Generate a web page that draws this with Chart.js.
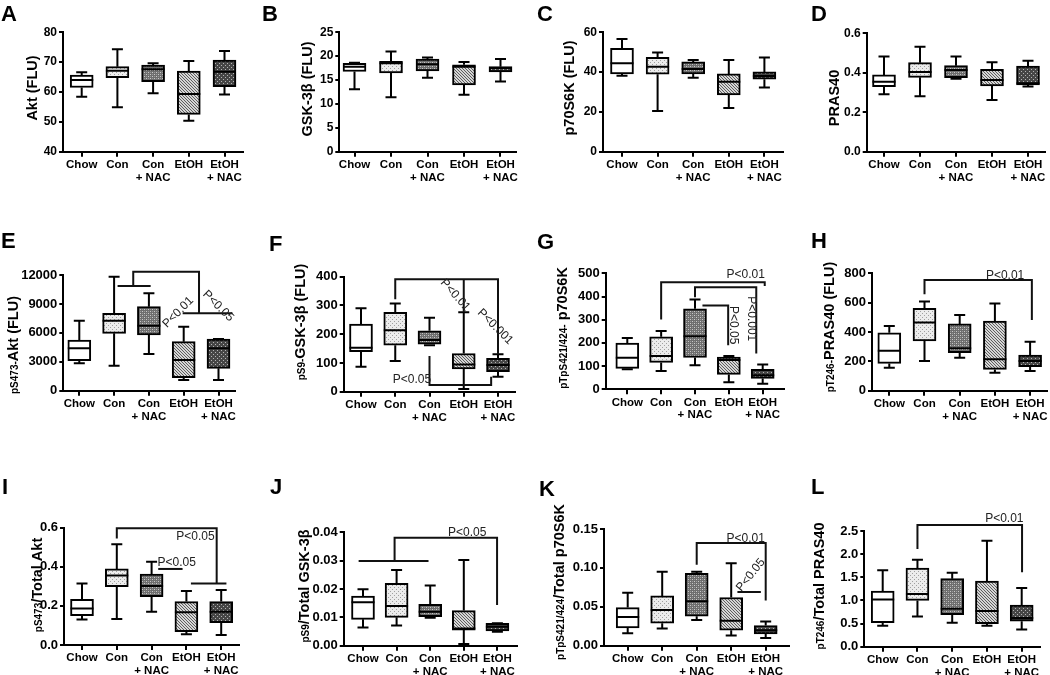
<!DOCTYPE html>
<html>
<head>
<meta charset="utf-8">
<script src="https://cdn.jsdelivr.net/npm/chart.js@4.4.1/dist/chart.umd.min.js"></script>
<style>
  body { margin: 0; background: #fff; }
  #fig { position: relative; width: 1050px; height: 675px; overflow: hidden; }
  .panel { position: absolute; }
  .letter { position: absolute; font: bold 22px Arial, "Liberation Sans", sans-serif; line-height: 1; color: #000; }
</style>
</head>
<body>
<div id="fig"></div>
<script>
const groups = ["Chow", "Con", ["Con", "+ NAC"], "EtOH", ["EtOH", "+ NAC"]];

// each box: [min, q1, median, q3, max] for Chow, Con, Con+NAC, EtOH, EtOH+NAC
const aktBox = [[58.4, 61.5, 64.0, 65.7, 66.6], [54.9, 64.8, 67.1, 68.5, 74.3], [59.6, 63.5, 67.6, 69.0, 69.6], [50.4, 52.5, 59.3, 67.0, 70.4], [59.2, 61.8, 66.8, 70.7, 73.7]];
const gskBox = [[13.1, 16.8, 17.8, 18.5, 18.6], [11.4, 16.5, 18.5, 18.9, 21.0], [15.5, 16.9, 18.3, 19.4, 19.7], [11.9, 14.0, 17.8, 18.2, 18.8], [14.7, 16.7, 17.5, 17.8, 19.4]];
const p70Box = [[38.2, 39.1, 44.4, 52.0, 56.6], [20.5, 38.9, 42.7, 47.4, 49.8], [37.2, 39.1, 41.6, 45.1, 46.1], [22.0, 28.5, 35.2, 39.1, 46.1], [32.2, 36.4, 38.1, 40.1, 47.3]];
const prasBox = [[0.291, 0.330, 0.355, 0.389, 0.482], [0.281, 0.377, 0.404, 0.451, 0.532], [0.370, 0.375, 0.414, 0.436, 0.482], [0.262, 0.333, 0.363, 0.417, 0.453], [0.330, 0.338, 0.347, 0.434, 0.461]];
const pAktBox = [[2836, 3112, 4392, 5256, 7262], [2594, 5948, 7262, 8023, 11827], [3804, 5775, 6743, 8714, 10097], [1106, 1349, 3181, 5083, 6640], [1106, 2317, 4392, 5360, 5360]];
const pGskBox = [[87, 139, 153, 235, 290], [107, 162, 214, 276, 307], [162, 165, 180, 212, 257], [9, 79, 95, 133, 276], [52, 70, 93, 116, 130]];
const pP70Box = [[86, 90, 136, 199, 221], [79, 116, 143, 226, 251], [104, 137, 229, 347, 387], [30, 64, 126, 139, 143], [24, 47, 61, 86, 107]];
const pPrasBox = [[157, 186, 273, 395, 441], [202, 339, 464, 561, 607], [225, 259, 289, 455, 516], [123, 145, 214, 475, 595], [134, 164, 202, 243, 334]];
const rAktBox = [[0.131, 0.150, 0.187, 0.234, 0.315], [0.133, 0.298, 0.355, 0.389, 0.515], [0.170, 0.247, 0.302, 0.363, 0.426], [0.055, 0.068, 0.167, 0.222, 0.276], [0.051, 0.114, 0.170, 0.222, 0.281]];
const rGskBox = [[0.0064, 0.0093, 0.0153, 0.0175, 0.0199], [0.0071, 0.0100, 0.0140, 0.0220, 0.0267], [0.0099, 0.0102, 0.0120, 0.0146, 0.0212], [0.0006, 0.0055, 0.0061, 0.0124, 0.0302], [0.0049, 0.0052, 0.0067, 0.0079, 0.0079]];
const rP70Box = [[0.016, 0.023, 0.037, 0.049, 0.068], [0.022, 0.029, 0.046, 0.064, 0.095], [0.033, 0.038, 0.057, 0.093, 0.095], [0.013, 0.020, 0.032, 0.062, 0.106], [0.010, 0.015, 0.020, 0.026, 0.031]];
const rPrasBox = [[0.45, 0.52, 1.02, 1.20, 1.65], [0.65, 1.00, 1.14, 1.70, 1.88], [0.52, 0.69, 0.82, 1.47, 1.60], [0.45, 0.50, 0.77, 1.42, 2.29], [0.37, 0.55, 0.62, 0.90, 1.27]];

// y tick labels
const aktTicks = ["40", "50", "60", "70", "80"];
const gskTicks = ["0", "5", "10", "15", "20", "25"];
const p70Ticks = ["0", "20", "40", "60"];
const prasTicks = ["0.0", "0.2", "0.4", "0.6"];
const pAktTicks = ["0", "3000", "6000", "9000", "12000"];
const pGskTicks = ["0", "100", "200", "300", "400"];
const pP70Ticks = ["0", "100", "200", "300", "400", "500"];
const pPrasTicks = ["0", "200", "400", "600", "800"];
const rAktTicks = ["0.0", "0.2", "0.4", "0.6"];
const rGskTicks = ["0.00", "0.01", "0.02", "0.03", "0.04"];
const rP70Ticks = ["0.00", "0.05", "0.10", "0.15"];
const rPrasTicks = ["0.0", "0.5", "1.0", "1.5", "2.0", "2.5"];

// significance brackets: polylines of [group index, value]; notes: [text, group index, value, angle]
const pAktLines = [[[1.1, 10858], [2.05, 10858]], [[1.55, 10858], [1.55, 12345], [3.44, 12345], [3.44, 8023]], [[2.97, 8023], [4.4, 8023]]];
const pAktNotes = [["P<0.01", 2.84, 8126, -45], ["P<0.05", 3.99, 8783, 45]];
const pGskLines = [[[1, 322], [1, 391], [4, 391], [4, 130]], [[3, 391], [3, 276]], [[2, 124], [2, 23], [3.8, 23], [3.8, 52]]];
const pGskNotes = [["P<0.05", 1.49, 42, 0], ["P<0.01", 2.75, 336, 48], ["P<0.001", 3.92, 226, 45]];
const pP70Lines = [[[1, 301], [1, 461], [4.06, 461], [4.06, 445]], [[2, 397], [2, 440], [3.81, 440], [3.81, 154]], [[2.22, 361], [2.98, 361], [2.98, 190]]];
const pP70Notes = [["P<0.01", 3.5, 493, 0], ["P<0.05", 3.13, 276, 90], ["P<0.001", 3.66, 304, 90]];
const pPrasLines = [[[1, 657], [1, 755], [4.05, 755], [4.05, 482]]];
const pPrasNotes = [["P<0.01", 3.29, 784, 0]];
const rAktLines = [[[1, 0.545], [1, 0.597], [3.87, 0.597], [3.87, 0.315]], [[3.13, 0.315], [4.15, 0.315]], [[2.19, 0.389], [2.89, 0.389]]];
const rAktNotes = [["P<0.05", 3.26, 0.554, 0], ["P<0.05", 2.72, 0.423, 0]];
const rGskLines = [[[-0.13, 0.0299], [1.95, 0.0299]], [[0.94, 0.0299], [0.94, 0.0381], [3.99, 0.0381], [3.99, 0.0144]]];
const rGskNotes = [["P<0.05", 3.1, 0.0400, 0]];
const rP70Lines = [[[2, 0.104], [2, 0.132], [4, 0.132], [4, 0.058]], [[3.18, 0.069], [3.86, 0.069]]];
const rP70Notes = [["P<0.01", 3.42, 0.138, 0], ["P<0.05", 3.57, 0.091, -51]];
const rPrasLines = [[[1, 2.11], [1, 2.63], [4.01, 2.63], [4.01, 1.61]]];
const rPrasNotes = [["P<0.01", 3.5, 2.77, 0]];

const FONT = 'Arial, "Liberation Sans", sans-serif';

function makePattern(kind) {
  const c = document.createElement("canvas");
  const g = c.getContext("2d");
  if (kind === "light") {
    c.width = c.height = 4;
    g.fillStyle = "#ececec"; g.fillRect(0, 0, 4, 4);
    g.fillStyle = "#a0a0a0"; g.fillRect(0, 0, 1, 1); g.fillRect(2, 2, 1, 1);
  } else if (kind === "mid") {
    c.width = c.height = 4;
    g.fillStyle = "#6e6e6e"; g.fillRect(0, 0, 4, 4);
    g.fillStyle = "#c8c8c8"; g.fillRect(0, 0, 1, 1); g.fillRect(2, 2, 1, 1);
    g.fillStyle = "#9a9a9a"; g.fillRect(2, 0, 1, 1); g.fillRect(0, 2, 1, 1);
  } else if (kind === "hatch") {
    c.width = c.height = 3;
    g.fillStyle = "#d6d6d6"; g.fillRect(0, 0, 3, 3);
    g.fillStyle = "#5e5e5e"; for (let i = 0; i < 3; i++) g.fillRect(i, i, 1, 1);
  } else {
    c.width = c.height = 4;
    g.fillStyle = "#464646"; g.fillRect(0, 0, 4, 4);
    g.fillStyle = "#b4b4b4"; g.fillRect(1, 1, 1, 1); g.fillRect(3, 3, 1, 1);
  }
  return g.createPattern(c, "repeat");
}
const fills = ["#ffffff", makePattern("light"), makePattern("mid"), makePattern("hatch"), makePattern("dark")];

const panels = [
  { letter: "A", box: aktBox, ticks: aktTicks, title: ["", "Akt (FLU)"], lines: [], notes: [], cell: [0, 0, 225], axisX: 63, c0: 81.7, step: 35.7, top: 32.3, bottom: 151.7, lpos: [1, 2.5], tx: 32, ty: 88, tick: 12 },
  { letter: "B", box: gskBox, ticks: gskTicks, title: ["", "GSK-3\u03b2 (FLU)"], lines: [], notes: [], cell: [262, 0, 225], axisX: 339.3, c0: 354.5, step: 36.5, top: 32.3, bottom: 151.7, lpos: [262, 2.5], tx: 307, ty: 89, tick: 12 },
  { letter: "C", box: p70Box, ticks: p70Ticks, title: ["", "p70S6K (FLU)"], lines: [], notes: [], cell: [524, 0, 225], axisX: 603, c0: 622, step: 35.6, top: 32.3, bottom: 151.7, lpos: [537, 2.5], tx: 569, ty: 88, tick: 12 },
  { letter: "D", box: prasBox, ticks: prasTicks, title: ["", "PRAS40"], lines: [], notes: [], cell: [786, 0, 225], axisX: 866.7, c0: 884, step: 36, top: 33.3, bottom: 151.7, lpos: [811, 2.5], tx: 834, ty: 98, tick: 12 },
  { letter: "E", box: pAktBox, ticks: pAktTicks, title: ["pS473-", "Akt (FLU)"], lines: pAktLines, notes: pAktNotes, cell: [0, 225, 230], axisX: 63.3, c0: 79.3, step: 34.8, top: 275, bottom: 390.7, lpos: [1, 229.5], tx: 13, ty: 345, tick: 13 },
  { letter: "F", box: pGskBox, ticks: pGskTicks, title: ["pS9-", "GSK-3\u03b2 (FLU)"], lines: pGskLines, notes: pGskNotes, cell: [262, 225, 230], axisX: 343.7, c0: 361, step: 34.25, top: 276.7, bottom: 391.7, lpos: [269, 232.5], tx: 300, ty: 322, tick: 13 },
  { letter: "G", box: pP70Box, ticks: pP70Ticks, title: ["pTpS421/424-", " p70S6K"], lines: pP70Lines, notes: pP70Notes, cell: [524, 225, 230], axisX: 605.7, c0: 627.3, step: 33.85, top: 273.3, bottom: 389.3, lpos: [537, 230.5], tx: 562, ty: 328, tick: 13 },
  { letter: "H", box: pPrasBox, ticks: pPrasTicks, title: ["pT246-", "PRAS40 (FLU)"], lines: pPrasLines, notes: pPrasNotes, cell: [786, 225, 230], axisX: 872, c0: 889.3, step: 35.2, top: 273.3, bottom: 390.7, lpos: [811, 229.5], tx: 829, ty: 327, tick: 13 },
  { letter: "I", box: rAktBox, ticks: rAktTicks, title: ["pS473", "/Total Akt"], lines: rAktLines, notes: rAktNotes, cell: [0, 455, 220], axisX: 64, c0: 82, step: 34.8, top: 527.7, bottom: 645, lpos: [2, 475.5], tx: 37, ty: 585, tick: 13 },
  { letter: "J", box: rGskBox, ticks: rGskTicks, title: ["pS9", "/Total GSK-3\u03b2"], lines: rGskLines, notes: rGskNotes, cell: [262, 455, 220], axisX: 343.7, c0: 363, step: 33.6, top: 532.3, bottom: 645.7, lpos: [270, 475.5], tx: 304, ty: 586, tick: 13 },
  { letter: "K", box: rP70Box, ticks: rP70Ticks, title: ["pTpS421/424", "/Total p70S6K"], lines: rP70Lines, notes: rP70Notes, cell: [524, 455, 220], axisX: 604, c0: 627.7, step: 34.5, top: 529, bottom: 645.7, lpos: [539, 477.5], tx: 559, ty: 582, tick: 13 },
  { letter: "L", box: rPrasBox, ticks: rPrasTicks, title: ["pT246", "/Total PRAS40"], lines: rPrasLines, notes: rPrasNotes, cell: [786, 455, 220], axisX: 864.3, c0: 882.7, step: 34.75, top: 531, bottom: 646.7, lpos: [811, 475.5], tx: 819, ty: 586, tick: 13 },
];

const fig = document.getElementById("fig");
const CANVAS_W = 280;

function makeChart(p) {
  const [L, T, H] = p.cell;
  const div = document.createElement("div");
  div.className = "panel";
  div.style.left = L + "px";
  div.style.top = T + "px";
  div.style.width = CANVAS_W + "px";
  div.style.height = H + "px";
  const cv = document.createElement("canvas");
  div.appendChild(cv);
  fig.appendChild(div);

  const lab = document.createElement("div");
  lab.className = "letter";
  lab.textContent = p.letter;
  lab.style.left = p.lpos[0] + "px";
  lab.style.top = p.lpos[1] + "px";
  fig.appendChild(lab);

  const off = (p.c0 - p.axisX) / p.step;
  const plotW = p.step * (4 + 2 * off);
  const yW = p.axisX - L;
  const xH = T + H - p.bottom;
  const tickVals = p.ticks.map(Number);

  const extras = {
    id: "boxExtras",
    afterDatasetsDraw(chart) {
      const ctx = chart.ctx;
      const xs = chart.scales.x, ys = chart.scales.y;
      const meta = chart.getDatasetMeta(0);
      ctx.save();
      ctx.strokeStyle = "#000";
      ctx.lineWidth = 2;
      ctx.lineCap = "butt";
      p.box.forEach((b, i) => {
        const bar = meta.data[i];
        const x = bar.x, half = bar.width / 2;
        const [lo, q1, med, q3, hi] = b.map(v => ys.getPixelForValue(v));
        ctx.beginPath();
        ctx.moveTo(x, q3); ctx.lineTo(x, hi);
        ctx.moveTo(x - 5.5, hi); ctx.lineTo(x + 5.5, hi);
        ctx.moveTo(x, q1); ctx.lineTo(x, lo);
        ctx.moveTo(x - 5.5, lo); ctx.lineTo(x + 5.5, lo);
        ctx.moveTo(x - half, med); ctx.lineTo(x + half, med);
        ctx.stroke();
      });
      // brackets
      ctx.strokeStyle = "#111";
      ctx.lineJoin = "miter";
      p.lines.forEach(path => {
        ctx.beginPath();
        path.forEach(([xv, yv], k) => {
          const px = xs.getPixelForValue(xv), py = ys.getPixelForValue(yv);
          if (k === 0) ctx.moveTo(px, py); else ctx.lineTo(px, py);
        });
        ctx.stroke();
      });
      ctx.fillStyle = "#222";
      ctx.font = "12px " + FONT;
      ctx.textAlign = "center";
      ctx.textBaseline = "middle";
      p.notes.forEach(([text, xv, yv, rot]) => {
        ctx.save();
        ctx.translate(xs.getPixelForValue(xv), ys.getPixelForValue(yv));
        ctx.rotate(rot * Math.PI / 180);
        ctx.fillText(text, 0, 0);
        ctx.restore();
      });
      // y axis title with smaller prefix
      const [pre, main] = p.title;
      const preSize = 10, mainSize = 14.5;
      ctx.translate(p.tx - L, p.ty - T);
      ctx.rotate(-Math.PI / 2);
      ctx.fillStyle = "#000";
      ctx.textAlign = "left";
      ctx.textBaseline = "alphabetic";
      ctx.font = "bold " + preSize + "px " + FONT;
      const w1 = ctx.measureText(pre).width;
      ctx.font = "bold " + mainSize + "px " + FONT;
      const w2 = ctx.measureText(main).width;
      const x0 = -(w1 + w2) / 2, base = mainSize * 0.36;
      ctx.font = "bold " + preSize + "px " + FONT;
      ctx.fillText(pre, x0, base);
      ctx.font = "bold " + mainSize + "px " + FONT;
      ctx.fillText(main, x0 + w1, base);
      ctx.restore();
    }
  };

  new Chart(cv, {
    type: "bar",
    data: {
      datasets: [{
        data: p.box.map((b, i) => ({ x: i, y: [b[1], b[3]] })),
        backgroundColor: fills,
        borderColor: "#000",
        borderWidth: 2,
        borderSkipped: false,
        barThickness: 23,
      }],
    },
    options: {
      responsive: true,
      maintainAspectRatio: false,
      animation: false,
      layout: { padding: { left: 0, top: p.top - T, right: CANVAS_W - yW - plotW, bottom: 0 } },
      plugins: { legend: { display: false }, tooltip: { enabled: false } },
      scales: {
        x: {
          type: "linear",
          min: -off,
          max: 4 + off,
          offset: false,
          afterBuildTicks: s => { s.ticks = groups.map((g, i) => ({ value: i })); },
          afterFit: s => { s.height = xH; },
          ticks: {
            callback: v => groups[v],
            autoSkip: false,
            maxRotation: 0,
            minRotation: 0,
            padding: 2,
            color: "#000",
            font: { family: FONT, weight: "bold", size: 11.5, lineHeight: 1.1 },
          },
          grid: { offset: false, drawOnChartArea: false, tickLength: 5, color: "#000", lineWidth: 2 },
          border: { display: true, color: "#000", width: 2 },
        },
        y: {
          min: tickVals[0],
          max: tickVals[tickVals.length - 1],
          afterBuildTicks: s => { s.ticks = tickVals.map(v => ({ value: v })); },
          afterFit: s => { s.width = yW; },
          ticks: {
            callback: (v, i) => p.ticks[i],
            padding: 2,
            color: "#000",
            font: { family: FONT, weight: "bold", size: p.tick },
          },
          grid: { drawOnChartArea: false, tickLength: 4, color: "#000", lineWidth: 2 },
          border: { display: true, color: "#000", width: 2 },
        },
      },
    },
    plugins: [extras],
  });
}

panels.forEach(makeChart);
</script>
</body>
</html>
